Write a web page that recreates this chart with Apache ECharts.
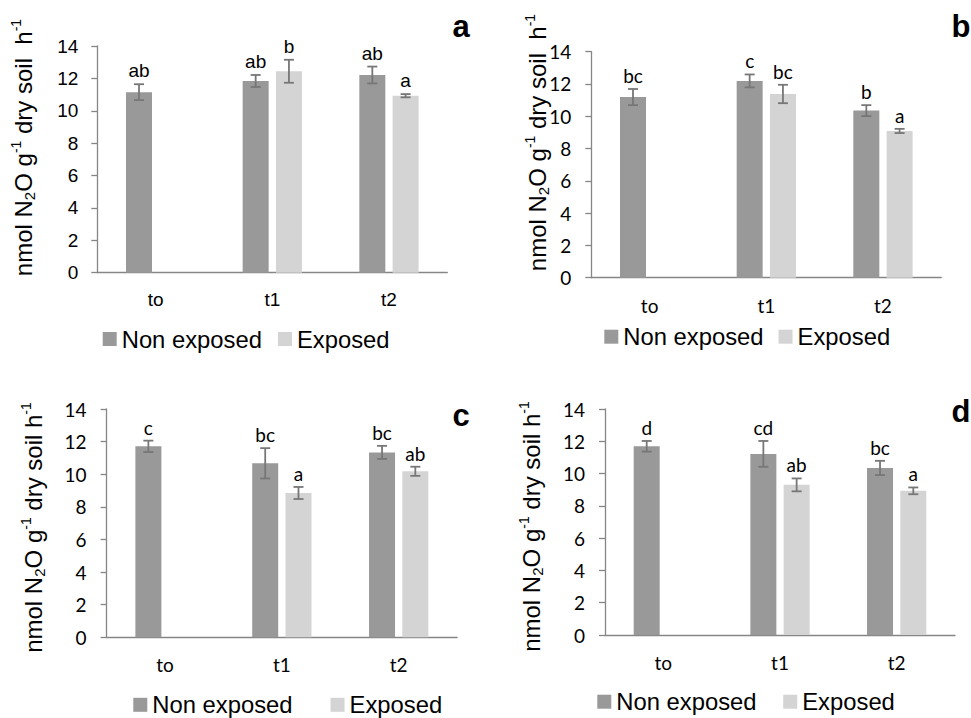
<!DOCTYPE html>
<html><head><meta charset="utf-8">
<script src="https://cdn.jsdelivr.net/npm/echarts@6/dist/echarts.min.js"></script>
<style>html,body{margin:0;padding:0;background:#fff}#c{width:971px;height:718px}</style>
</head><body><div id="c"></div>
<script>
// ---- data ----
const categories = ['to', 't1', 't2'];
const seriesNames = ['Non exposed', 'Exposed'];
const panelLetters = ['a', 'b', 'c', 'd'];

const aNonExposed = [11.15, 11.84, 12.21];
const aNonExposedErr = [0.49, 0.37, 0.52];
const aExposed = [null, 12.44, 10.93];
const aExposedErr = [null, 0.71, 0.10];
const aNonExposedLetters = ['ab', 'ab', 'ab'];
const aExposedLetters = ['', 'b', 'a'];

const bNonExposed = [11.19, 12.19, 10.35];
const bNonExposedErr = [0.50, 0.40, 0.34];
const bExposed = [null, 11.38, 9.09];
const bExposedErr = [null, 0.57, 0.13];
const bNonExposedLetters = ['bc', 'c', 'b'];
const bExposedLetters = ['', 'bc', 'a'];

const cNonExposed = [11.71, 10.67, 11.34];
const cNonExposedErr = [0.35, 0.93, 0.40];
const cExposed = [null, 8.85, 10.18];
const cExposedErr = [null, 0.37, 0.28];
const cNonExposedLetters = ['c', 'bc', 'bc'];
const cExposedLetters = ['', 'a', 'ab'];

const dNonExposed = [11.69, 11.22, 10.35];
const dNonExposedErr = [0.33, 0.80, 0.44];
const dExposed = [null, 9.30, 8.93];
const dExposedErr = [null, 0.40, 0.21];
const dNonExposedLetters = ['d', 'cd', 'bc'];
const dExposedLetters = ['', 'ab', 'a'];

// ---- styling / layout ----
const ARIAL = 'Liberation Sans';
const CALIBRI = 'Lato';
const NE_COLOR = '#999999';
const E_COLOR = '#d4d4d4';
const AXIS_COLOR = '#868686';
const ERR_COLOR = '#777777';
const BAR_W = 26;
const BAR_GAP = 0.28;

const panels = [
  { grid: {left: 97.3, top: 46, width: 350, height: 226.7}, font: ARIAL, fs: 19, lblMargin: 19, xMargin: 17,
    ne: aNonExposed, neErr: aNonExposedErr, ex: aExposed, exErr: aExposedErr, neL: aNonExposedLetters, exL: aExposedLetters,
    legend: {left: 102.7, cy: 339, gap: 16}, title: {x: 23, y: 147.5, text: 'nmol N_2O g^-1 dry soil  h^-1'}, letter: {x: 461, y: 26} },
  { grid: {left: 591.3, top: 51.7, width: 350, height: 226}, font: CALIBRI, fs: 19, lblMargin: 20, xMargin: 18,
    ne: bNonExposed, neErr: bNonExposedErr, ex: bExposed, exErr: bExposedErr, neL: bNonExposedLetters, exL: bExposedLetters,
    legend: {left: 604.3, cy: 336.7, gap: 15}, title: {x: 537, y: 142.5, text: 'nmol N_2O g^-1 dry soil  h^-1'}, letter: {x: 961, y: 26} },
  { grid: {left: 106.6, top: 409, width: 350.5, height: 228.3}, font: CALIBRI, fs: 19, lblMargin: 20, xMargin: 18,
    ne: cNonExposed, neErr: cNonExposedErr, ex: cExposed, exErr: cExposedErr, neL: cNonExposedLetters, exL: cExposedLetters,
    legend: {left: 133.3, cy: 704.8, gap: 38}, title: {x: 33, y: 527.5, text: 'nmol N_2O g^-1 dry soil h^-1'}, letter: {x: 461, y: 415} },
  { grid: {left: 605, top: 409, width: 350, height: 226}, font: CALIBRI, fs: 19, lblMargin: 20, xMargin: 18,
    ne: dNonExposed, neErr: dNonExposedErr, ex: dExposed, exErr: dExposedErr, neL: dNonExposedLetters, exL: dExposedLetters,
    legend: {left: 597.3, cy: 701.7, gap: 26.7}, title: {x: 531, y: 526.5, text: 'nmol N_2O g^-1 dry soil h^-1'}, letter: {x: 961, y: 411} }
];

function richTitle(t) {
  const parts = [];
  const re = /(_\S|\^-1)/g;
  let last = 0, m;
  while ((m = re.exec(t)) !== null) {
    if (m.index > last) parts.push('{m|' + t.slice(last, m.index) + '}');
    if (m[0][0] === '_') parts.push('{s|' + m[0].slice(1) + '}');
    else parts.push('{p|-1}');
    last = m.index + m[0].length;
  }
  if (last < t.length) parts.push('{m|' + t.slice(last) + '}');
  return parts.join('');
}

const option = {
  animation: false,
  backgroundColor: '#fff',
  grid: [], xAxis: [], yAxis: [], series: [], legend: [], graphic: []
};

panels.forEach((p, i) => {
  option.grid.push(Object.assign({containLabel: false}, p.grid));
  option.xAxis.push({
    type: 'category', gridIndex: i, data: categories,
    axisLine: {show: true, lineStyle: {color: AXIS_COLOR, width: 1.3}},
    axisTick: {show: false},
    axisLabel: {color: '#000', fontFamily: p.font, fontSize: p.fs, margin: p.xMargin},
    splitLine: {show: false}
  });
  option.yAxis.push({
    type: 'value', gridIndex: i, min: 0, max: 14, interval: 2,
    axisLine: {show: true, lineStyle: {color: AXIS_COLOR, width: 1.3}},
    axisTick: {show: true, inside: false, length: 6, lineStyle: {color: AXIS_COLOR, width: 1.3}},
    axisLabel: {color: '#000', fontFamily: p.font, fontSize: p.fs, margin: p.lblMargin},
    splitLine: {show: false}
  });
  const sets = [
    {name: seriesNames[0], vals: p.ne, errs: p.neErr, letters: p.neL, color: NE_COLOR, sign: -1},
    {name: seriesNames[1], vals: p.ex, errs: p.exErr, letters: p.exL, color: E_COLOR, sign: 1}
  ];
  sets.forEach(s => {
    option.series.push({
      type: 'bar', name: s.name, xAxisIndex: i, yAxisIndex: i,
      data: s.vals, barWidth: BAR_W, barGap: (BAR_GAP * 100) + '%',
      itemStyle: {color: s.color}, z: 2
    });
  });
  sets.forEach(s => {
    const errData = [];
    s.vals.forEach((v, k) => { if (v !== null) errData.push([k, v, s.errs[k]]); });
    const off = s.sign * (BAR_W * (1 + BAR_GAP)) / 2;
    const letters = s.letters;
    const font = p.font, fs = p.fs;
    option.series.push({
      type: 'custom', xAxisIndex: i, yAxisIndex: i, z: 5, silent: true,
      encode: {x: 0, y: 1},
      data: errData,
      renderItem: function (params, api) {
        const k = api.value(0), v = api.value(1), e = api.value(2);
        const c = api.coord([k, v]);
        const x = c[0] + off;
        const yt = api.coord([k, v + e])[1];
        const yb = api.coord([k, v - e])[1];
        const st = {stroke: ERR_COLOR, lineWidth: 1.8};
        return {
          type: 'group',
          children: [
            {type: 'line', shape: {x1: x, y1: yt, x2: x, y2: yb}, style: st},
            {type: 'line', shape: {x1: x - 5, y1: yt, x2: x + 5, y2: yt}, style: st},
            {type: 'line', shape: {x1: x - 5, y1: yb, x2: x + 5, y2: yb}, style: st},
            {type: 'text', x: x, y: yt - 4, style: {text: letters[k], fill: '#000', fontFamily: font, fontSize: fs, align: 'center', verticalAlign: 'bottom'}}
          ]
        };
      }
    });
  });
  option.legend.push({
    data: seriesNames, left: p.legend.left, top: p.legend.cy - 12, orient: 'horizontal',
    icon: 'rect', itemWidth: 14, itemHeight: 14, itemGap: p.legend.gap, padding: 0,
    selectedMode: false,
    textStyle: {fontFamily: ARIAL, fontSize: 23.8, color: '#000'}
  });
  option.graphic.push({
    type: 'text', x: p.title.x, y: p.title.y, rotation: Math.PI / 2,
    style: {
      text: richTitle(p.title.text), align: 'center', verticalAlign: 'middle',
      rich: {
        m: {fontFamily: ARIAL, fontSize: 24, lineHeight: 28, verticalAlign: 'middle', fill: '#000'},
        s: {fontFamily: ARIAL, fontSize: 15, lineHeight: 15, verticalAlign: 'bottom', fill: '#000'},
        p: {fontFamily: ARIAL, fontSize: 14, lineHeight: 14, verticalAlign: 'top', fill: '#000'}
      }
    }
  });
  option.graphic.push({
    type: 'text', x: p.letter.x, y: p.letter.y,
    style: {text: panelLetters[i], fontFamily: ARIAL, fontWeight: 'bold', fontSize: 31, fill: '#000', align: 'center', verticalAlign: 'middle'}
  });
});

const chart = echarts.init(document.getElementById('c'), null, {renderer: 'svg', width: 971, height: 718});
chart.setOption(option);
</script>
</body></html>
